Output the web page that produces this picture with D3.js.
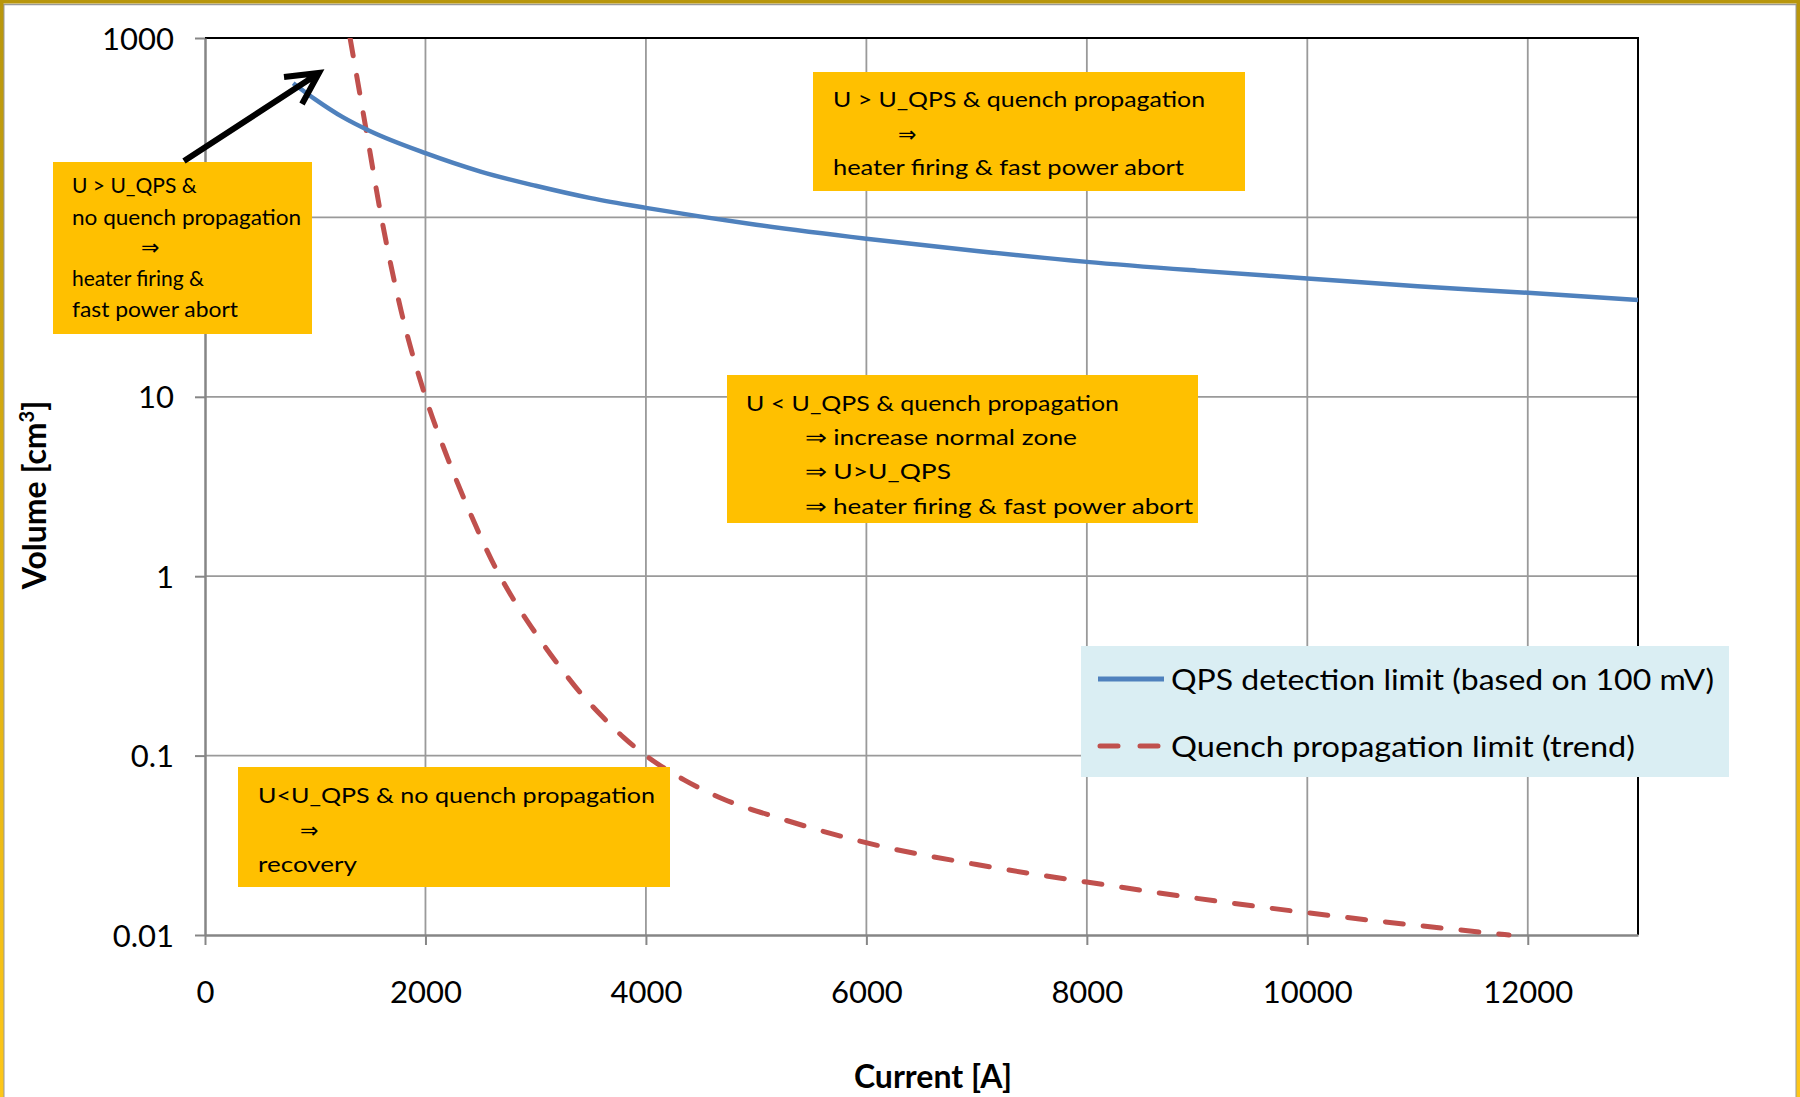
<!DOCTYPE html>
<html>
<head>
<meta charset="utf-8">
<script src="https://cdn.jsdelivr.net/npm/d3@7/dist/d3.min.js"></script>
<style>
  body { margin: 0; background: #fff; }
  svg { display: block; }
  text { font-family: Lato, "Open Sans", sans-serif; fill: #000; }
</style>
</head>
<body>
<svg id="svg" width="1800" height="1097"></svg>
<script>
// values
var qpsCurrent = [800, 1000, 1250, 1500, 2000, 2500, 3000, 3500, 4000, 4500, 5000, 6000, 7000, 8000, 9000, 10000, 11000, 12000, 13000];
var qpsVolume  = [560, 455, 362, 302, 228, 180, 150, 128, 113, 101, 91, 76, 65, 56.5, 50.5, 45.7, 41.3, 38, 34.6];

var quenchCurrent = [1316, 1465, 1600, 1780, 2000, 2200, 2400, 2600, 2800, 3000, 3200, 3400, 3600, 3800, 4000, 4350, 4700, 5200, 6100, 7000, 8200, 9000, 10000, 11000, 11830];
var quenchVolume  = [1000, 300, 100, 30, 10, 4.57, 2.29, 1.23, 0.74, 0.48, 0.324, 0.226, 0.166, 0.126, 0.1, 0.073, 0.0573, 0.045, 0.0316, 0.0247, 0.0189, 0.016, 0.0133, 0.0113, 0.01];

var xTicks = [0, 2000, 4000, 6000, 8000, 10000, 12000];
var yTicks = [0.01, 0.1, 1, 10, 100, 1000];
// the "100" label sits behind the first note box in the reference
var yHiddenLabels = [100];

var seriesNames = ["QPS detection limit (based on 100 mV)", "Quench propagation limit (trend)"];

// text boxes drawn on top of the chart
var notes = [
  {box: [53, 162, 312, 334], size: 21, lines: [
    {t: "U > U_QPS &", x: 72, y: 193},
    {t: "no quench propagation", x: 72, y: 225, w: 229},
    {t: "\u21D2", x: 141, y: 255, arrow: true},
    {t: "heater firing &", x: 72, y: 286},
    {t: "fast power abort", x: 72, y: 317, w: 166}]},
  {box: [813, 72, 1245, 191], size: 22, lines: [
    {t: "U > U_QPS & quench propagation", x: 833, y: 107, w: 372},
    {t: "\u21D2", x: 898, y: 142, arrow: true},
    {t: "heater firing & fast power abort", x: 833, y: 175, w: 351}]},
  {box: [727, 375, 1198, 523], size: 22, lines: [
    {t: "U < U_QPS & quench propagation", x: 746, y: 411, w: 373},
    {t: "\u21D2 increase normal zone", x: 805, y: 445, w: 272},
    {t: "\u21D2 U>U_QPS", x: 805, y: 479, w: 146},
    {t: "\u21D2 heater firing & fast power abort", x: 805, y: 514, w: 388}]},
  {box: [238, 767, 670, 887], size: 21, lines: [
    {t: "U<U_QPS & no quench propagation", x: 258, y: 803, w: 397},
    {t: "\u21D2", x: 300, y: 838, arrow: true},
    {t: "recovery", x: 258, y: 872, w: 99}]}
];

var svg = d3.select("#svg");
var W = 1800, H = 1097;
var plotLeft = 205, plotRight = 1638, plotTop = 38, plotBottom = 935;

var x = d3.scaleLinear().domain([0, 13000]).range([plotLeft, plotRight]);
var y = d3.scaleLog().domain([0.01, 1000]).range([plotBottom, plotTop]);

svg.append("rect").attr("width", W).attr("height", H).attr("fill", "#fff");

// grid
svg.append("g").selectAll("line")
    .data(xTicks.filter(function (d) { return d > 0; }))
    .enter().append("line")
    .attr("x1", function (d) { return x(d); })
    .attr("x2", function (d) { return x(d); })
    .attr("y1", plotTop).attr("y2", plotBottom)
    .attr("stroke", "#9a9a9a").attr("stroke-width", 1.8);

svg.append("g").selectAll("line")
    .data(yTicks.filter(function (d) { return d > 0.01 && d < 1000; }))
    .enter().append("line")
    .attr("y1", function (d) { return y(d); })
    .attr("y2", function (d) { return y(d); })
    .attr("x1", plotLeft).attr("x2", plotRight)
    .attr("stroke", "#9a9a9a").attr("stroke-width", 1.8);

// frame of plot area (top / right black)
svg.append("path")
    .attr("d", "M" + plotLeft + "," + plotTop + "H" + plotRight + "V" + plotBottom)
    .attr("fill", "none").attr("stroke", "#000").attr("stroke-width", 2);

// axes
var yAxis = svg.append("g")
    .attr("transform", "translate(" + plotLeft + ",0)")
    .call(d3.axisLeft(y).tickValues(yTicks)
        .tickFormat(function (d) { return yHiddenLabels.indexOf(d) >= 0 ? "" : String(d); })
        .tickSize(10).tickSizeOuter(0).tickPadding(21));
var xAxis = svg.append("g")
    .attr("transform", "translate(0," + plotBottom + ")")
    .call(d3.axisBottom(x).tickValues(xTicks).tickFormat(function (d) { return String(d); })
        .tickSize(10).tickSizeOuter(0));

[yAxis, xAxis].forEach(function (g) {
  g.select(".domain").attr("stroke", "#868686").attr("stroke-width", 2.5);
  g.selectAll(".tick line").attr("stroke", "#868686").attr("stroke-width", 2);
  g.selectAll("text").style("font-family", "Lato, sans-serif").style("font-size", "31px").attr("fill", "#000");
});
xAxis.selectAll("text").attr("dy", null).attr("y", 68);
yAxis.selectAll("text").attr("dy", "0.36em");

// series
var line = d3.line()
    .x(function (d) { return x(d[0]); })
    .y(function (d) { return y(d[1]); })
    .curve(d3.curveMonotoneX);

svg.append("defs").append("clipPath").attr("id", "plot")
  .append("rect").attr("x", plotLeft).attr("y", plotTop)
  .attr("width", plotRight - plotLeft).attr("height", plotBottom - plotTop + 3);

svg.append("path")
    .datum(d3.zip(quenchCurrent, quenchVolume))
    .attr("clip-path", "url(#plot)")
    .attr("d", line)
    .attr("fill", "none").attr("stroke", "#C0504D").attr("stroke-width", 5)
    .attr("stroke-linecap", "round").attr("stroke-dasharray", "18 20");

svg.append("path")
    .datum(d3.zip(qpsCurrent, qpsVolume))
    .attr("d", line)
    .attr("fill", "none").attr("stroke", "#4F81BD").attr("stroke-width", 4.5);

// axis titles
svg.append("text").attr("x", 933).attr("y", 1088).attr("text-anchor", "middle")
    .style("font-size", "32px").style("font-weight", "bold").text("Current [A]");
var yt = svg.append("text").attr("transform", "translate(46,495) rotate(-90)").attr("text-anchor", "middle")
    .style("font-size", "32px").style("font-weight", "bold");
yt.append("tspan").text("Volume [cm");
yt.append("tspan").attr("dy", -12).style("font-size", "20px").text("3");
yt.append("tspan").attr("dy", 12).text("]");

// notes
notes.forEach(function (n) {
  var b = n.box;
  svg.append("rect").attr("x", b[0]).attr("y", b[1]).attr("width", b[2] - b[0]).attr("height", b[3] - b[1])
      .attr("fill", "#FFC000");
  n.lines.forEach(function (l) {
    var t = svg.append("text").attr("x", l.x).attr("y", l.y).style("font-size", n.size + "px");
    if (l.arrow) {
      t.style("font-family", "'DejaVu Sans', sans-serif").style("font-size", "22px").text(l.t);
    } else {
      t.text(l.t);
    }
    if (l.w) t.attr("textLength", l.w).attr("lengthAdjust", "spacingAndGlyphs");
  });
});

// arrow
svg.append("path")
    .attr("d", "M184,161L316,75M284,77L319,73L302,104")
    .attr("fill", "none").attr("stroke", "#000").attr("stroke-width", 6)
    .attr("stroke-linejoin", "miter");

// legend
var lg = svg.append("g");
lg.append("rect").attr("x", 1081).attr("y", 646).attr("width", 648).attr("height", 131).attr("fill", "#DAEEF3");
lg.append("line").attr("x1", 1098).attr("x2", 1164).attr("y1", 679).attr("y2", 679)
    .attr("stroke", "#4F81BD").attr("stroke-width", 5);
lg.append("line").attr("x1", 1100).attr("x2", 1160).attr("y1", 746).attr("y2", 746)
    .attr("stroke", "#C0504D").attr("stroke-width", 5).attr("stroke-linecap", "round").attr("stroke-dasharray", "18 22");
lg.append("text").attr("x", 1171).attr("y", 690).style("font-size", "29px")
    .attr("textLength", 543).attr("lengthAdjust", "spacingAndGlyphs").text(seriesNames[0]);
lg.append("text").attr("x", 1171).attr("y", 757).style("font-size", "29px")
    .attr("textLength", 464).attr("lengthAdjust", "spacingAndGlyphs").text(seriesNames[1]);

// outer gold frame
var grad = svg.select("defs").append("linearGradient").attr("id", "gold")
    .attr("x1", 0).attr("y1", 0).attr("x2", 0).attr("y2", 1);
grad.append("stop").attr("offset", "0%").attr("stop-color", "#b8960c");
grad.append("stop").attr("offset", "100%").attr("stop-color", "#ffc819");
svg.append("rect").attr("x", 3.75).attr("y", 4.5).attr("width", W - 7.5).attr("height", H + 20)
    .attr("fill", "none").attr("stroke", "#999").attr("stroke-width", 1.5);
svg.append("rect").attr("x", 0).attr("y", 0).attr("width", W).attr("height", H + 20)
    .attr("fill", "none").attr("stroke", "url(#gold)").attr("stroke-width", 7);
</script>
</body>
</html>
